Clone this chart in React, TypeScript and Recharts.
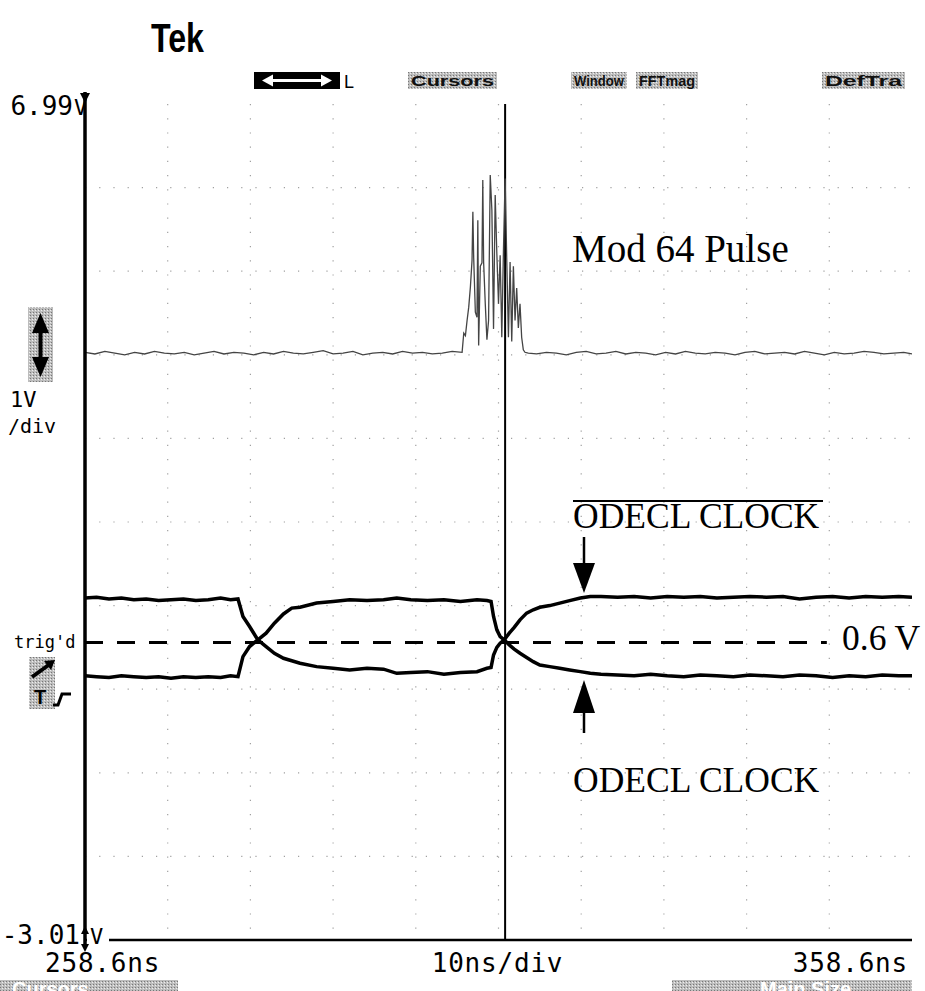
import React from 'react';
import { LineChart, Line, XAxis, YAxis, CartesianGrid, ReferenceLine } from 'recharts';

const W = 925;
const H = 991;
// plot box in page pixels (graticule edges)
const PLOT = { left: 85, right: 912, top: 104, bottom: 940 };
const X_AXIS_H = 40;
const Y_AXIS_W = 60;

const xDomain = [258.6, 358.6]; // ns
const yDomain = [-3.01, 6.99]; // V
const xTicks = [258.6, 308.6, 358.6];
const xTickLabels = ['258.6ns', '10ns/div', '358.6ns'];
const yTicks = [-3.01, 6.99];
const yTickLabels = ['-3.01', '6.99'];
const gridTimes = [268.6, 278.6, 288.6, 298.6, 308.6, 318.6, 328.6, 338.6, 348.6];
const gridVolts = [-2.01, -1.01, -0.01, 0.99, 1.99, 2.99, 3.99, 4.99, 5.99];

const cursorTime = 309.4;
const trigLevel = 0.55;
const trigEndTime = 348.3;

// Mod 64 pulse trace (top channel)
const pulseLeftTimes = [
  258.6, 259.8, 261.0, 262.2, 263.4, 264.6, 265.8, 267.0, 268.2, 269.4,
  270.6, 271.8, 273.0, 274.2, 275.4, 276.6, 277.8, 279.0, 280.2, 281.4,
  282.6, 283.8, 285.0, 286.2, 287.4, 288.6, 289.8, 291.0, 292.2, 293.4,
  294.6, 295.8, 297.0, 298.2, 299.4, 300.6, 301.8, 303.0, 304.2,
];
const pulseLeftVolts = [
  4.02, 4.0, 4.03, 4.01, 3.99, 4.02, 4.0, 4.03, 4.01, 4.0,
  4.02, 3.99, 4.01, 4.03, 4.0, 4.02, 4.01, 3.99, 4.02, 4.0,
  4.03, 4.01, 4.0, 4.02, 4.04, 4.0, 4.01, 4.03, 3.99, 4.01,
  4.02, 4.0, 4.03, 4.01, 4.02, 4.0, 4.01, 4.03, 4.02,
];
const pulseBurstTimes = [
  304.4, 304.6, 304.8, 305.0, 305.2, 305.4, 305.5, 305.6, 305.8, 306.0,
  306.1, 306.2, 306.4, 306.6, 306.7, 306.8, 307.0, 307.2, 307.4, 307.6,
  307.8, 308.0, 308.2, 308.4, 308.6, 308.8, 309.0, 309.2, 309.4, 309.6,
  309.8, 310.0, 310.2, 310.4, 310.6, 310.8, 311.0, 311.2, 311.4, 311.6,
  311.8, 312.2,
];
const pulseBurstVolts = [
  4.25, 4.22, 4.4, 4.56, 4.8, 5.12, 5.7, 5.15, 4.5, 4.44,
  5.6, 4.1, 5.05, 5.09, 6.08, 5.1, 4.6, 4.17, 4.4, 6.14,
  5.72, 4.3, 5.9, 5.2, 4.6, 5.18, 4.2, 5.25, 6.1, 5.12,
  4.2, 5.1, 4.15, 5.05, 4.4, 4.79, 4.31, 4.6, 4.2, 4.05,
  4.02, 4.01,
];
const pulseRightTimes = [
  313.2, 314.4, 315.6, 316.8, 318.0, 319.2, 320.4, 321.6, 322.8, 324.0,
  325.2, 326.4, 327.6, 328.8, 330.0, 331.2, 332.4, 333.6, 334.8, 336.0,
  337.2, 338.4, 339.6, 340.8, 342.0, 343.2, 344.4, 345.6, 346.8, 348.0,
  349.2, 350.4, 351.6, 352.8, 354.0, 355.2, 356.4, 357.6, 358.6,
];
const pulseRightVolts = [
  4.0, 4.02, 4.01, 3.99, 4.02, 4.03, 4.0, 4.01, 4.03, 4.0,
  4.02, 4.01, 3.99, 4.02, 4.0, 4.03, 4.01, 4.0, 4.02, 4.01,
  3.99, 4.02, 4.03, 4.0, 4.01, 4.02, 4.0, 4.03, 4.01, 3.99,
  4.02, 4.0, 4.01, 4.03, 4.02, 4.0, 4.01, 4.02, 4.0,
];

// the two clock traces share one time base
const clockTimes = [
  258.6, 260, 261.5, 263, 264.5, 266, 267.5, 269, 270.5, 272,
  273.5, 275, 276.2, 277.1, 277.7, 278.5, 279.5, 280.5, 281.5, 282.6,
  283.6, 284.6, 286.6, 288.6, 290.6, 292.7, 294.7, 296.3, 298, 300,
  302, 304, 306, 307.2, 307.7, 308.0, 308.4, 308.8, 309.3, 309.9,
  310.5, 311.2, 312.0, 312.8, 313.6, 314.8, 316.0, 317.2, 318.5, 319.7,
  321, 323, 325, 327, 329, 331, 333, 335, 337, 339,
  341, 343, 345, 347, 349, 351, 353, 355, 357, 358.6,
];
// ODECL CLOCK (bar) - high at the ends
const clockBarVolts = [
  1.08, 1.09, 1.07, 1.08, 1.06, 1.07, 1.05, 1.06, 1.07, 1.05,
  1.06, 1.08, 1.06, 1.07, 0.86, 0.74, 0.58, 0.5, 0.42, 0.36,
  0.33, 0.3, 0.26, 0.24, 0.22, 0.24, 0.23, 0.18, 0.19, 0.2,
  0.17, 0.19, 0.2, 0.24, 0.25, 0.4, 0.49, 0.54, 0.58, 0.66,
  0.73, 0.82, 0.9, 0.94, 0.97, 0.99, 1.02, 1.05, 1.08, 1.1,
  1.1, 1.09, 1.1, 1.08, 1.1, 1.09, 1.1, 1.08, 1.09, 1.1,
  1.09, 1.1, 1.07, 1.09, 1.1, 1.08, 1.1, 1.09, 1.1, 1.09,
];
// ODECL CLOCK - low at the ends
const clockVolts = [
  0.15, 0.14, 0.13, 0.15, 0.14, 0.13, 0.14, 0.12, 0.14, 0.13,
  0.14, 0.13, 0.15, 0.14, 0.38, 0.5, 0.58, 0.66, 0.78, 0.89,
  0.96, 0.97, 1.02, 1.04, 1.06, 1.05, 1.06, 1.08, 1.06, 1.05,
  1.06, 1.04, 1.06, 1.05, 1.04, 0.86, 0.7, 0.62, 0.58, 0.52,
  0.47, 0.42, 0.37, 0.32, 0.28, 0.26, 0.24, 0.22, 0.2, 0.18,
  0.17, 0.16, 0.15, 0.17, 0.15, 0.14, 0.16, 0.15, 0.14, 0.16,
  0.15, 0.14, 0.16, 0.15, 0.13, 0.15, 0.14, 0.16, 0.15, 0.15,
];

const toPoints = (ts: number[], vs: number[]) => ts.map((t, i) => ({ t, v: vs[i] }));

const pulseData = [
  ...toPoints(pulseLeftTimes, pulseLeftVolts),
  ...toPoints(pulseBurstTimes, pulseBurstVolts),
  ...toPoints(pulseRightTimes, pulseRightVolts),
];
const clockBarData = toPoints(clockTimes, clockBarVolts);
const clockData = toPoints(clockTimes, clockVolts);

const MONO = '"DejaVu Sans Mono", monospace';
const SERIF = '"Liberation Serif", "Times New Roman", serif';
const NARROW = '"Liberation Sans Narrow", "Liberation Sans", Arial, sans-serif';

const XTick = (props: any) => {
  const { x, payload } = props;
  const i = xTicks.indexOf(payload.value);
  const anchor = i === 0 ? 'start' : i === 2 ? 'end' : 'middle';
  const dx = i === 0 ? -40 : i === 2 ? -4 : -1;
  return (
    <text x={x + dx} y={PLOT.bottom + 32} textAnchor={anchor} fontFamily={MONO} fontSize={26} letterSpacing={0.8} fill="#000">
      {xTickLabels[i]}
    </text>
  );
};

const YTick = (props: any) => {
  const { y, payload } = props;
  const i = yTicks.indexOf(payload.value);
  const base = i === 1 ? y + 11 : y + 4;
  const numEnd = i === 1 ? PLOT.left - 12 : PLOT.left - 5;
  const vX = i === 1 ? PLOT.left - 11 : PLOT.left + 5;
  return (
    <g>
      <text x={numEnd} y={base} textAnchor="end" fontFamily={MONO} fontSize={26} fill="#000">
        {yTickLabels[i]}
      </text>
      {/* the scope clears the baseline behind the bottom "V" */}
      {i === 0 && <rect x={PLOT.left + 2} y={base - 16} width={22} height={20} fill="#fff" />}
      <text x={vX} y={base} fontFamily={MONO} fontSize={22} fill="#000">V</text>
    </g>
  );
};

const MenuBox = ({ x, w, label }: { x: number; w: number; label: string }) => (
  <g>
    <rect x={x} y={72} width={w} height={17} fill="url(#halftone)" />
    <text x={x + 3} y={86} fontFamily={NARROW} fontWeight="bold" fontSize={15} textLength={w - 6} lengthAdjust="spacingAndGlyphs" fill="#111">
      {label}
    </text>
  </g>
);

const Decorations = () => (
  <svg width={W} height={H} style={{ position: 'absolute', left: 0, top: 0, pointerEvents: 'none' }}>
    <defs>
      <pattern id="halftone" width="3" height="3" patternUnits="userSpaceOnUse">
        <rect width="3" height="3" fill="#bdbdbd" />
        <rect x="0" y="0" width="1" height="1" fill="#777" />
        <rect x="2" y="1" width="1" height="1" fill="#eee" />
      </pattern>
    </defs>

    {/* top menu */}
    <text x={151} y={52} fontFamily='"Liberation Sans", Arial, sans-serif' fontWeight="bold" fontSize={40} textLength={53} lengthAdjust="spacingAndGlyphs" fill="#000">Tek</text>
    <rect x={254} y={72} width={86} height={17} fill="#000" />
    <polygon points="262,80.5 273,74.5 273,86.5" fill="#fff" />
    <polygon points="332,80.5 321,74.5 321,86.5" fill="#fff" />
    <rect x={272} y={79} width={50} height={3} fill="#fff" />
    <text x={344} y={88} fontFamily='"Liberation Sans", Arial, sans-serif' fontSize={18} fill="#000">L</text>
    <MenuBox x={408} w={89} label="Cursors" />
    <MenuBox x={571} w={56} label="Window" />
    <MenuBox x={636} w={62} label="FFTmag" />
    <MenuBox x={822} w={83} label="DefTra" />

    {/* vertical axis with its end markers */}
    <line x1={PLOT.left} y1={92} x2={PLOT.left} y2={948} stroke="#000" strokeWidth={3.5} />
    <polygon points={`${PLOT.left - 5},93 ${PLOT.left + 5},93 ${PLOT.left},103`} fill="#000" />
    <polygon points={`${PLOT.left - 4},934 ${PLOT.left + 4},934 ${PLOT.left},926`} fill="#000" />
    <polygon points={`${PLOT.left - 4},944 ${PLOT.left + 4},944 ${PLOT.left},952`} fill="#000" />

    {/* left panel */}
    <rect x={28} y={307} width={25} height={75} fill="url(#halftone)" />
    <polygon points="40.5,313 32,333 49,333" fill="#000" />
    <rect x={38.5} y={330} width={4} height={30} fill="#000" />
    <polygon points="40.5,377 32,357 49,357" fill="#000" />
    <text x={10} y={407} fontFamily={MONO} fontSize={22} fill="#000">1V</text>
    <text x={8} y={433} fontFamily={MONO} fontSize={20} fill="#000">/div</text>
    <text x={14} y={648} fontFamily={MONO} fontSize={17} fill="#000">trig'd</text>
    <rect x={29} y={657} width={26} height={52} fill="url(#halftone)" />
    <line x1={32} y1={677} x2={50} y2={664} stroke="#000" strokeWidth={4} />
    <polygon points="55,660 44,661 51,670" fill="#000" />
    <text x={34} y={704} fontFamily='"Liberation Sans", Arial, sans-serif' fontWeight="bold" fontSize={20} fill="#000">T</text>
    <polyline points="53,705 58,705 62,694 71,694" fill="none" stroke="#000" strokeWidth={3} />

    {/* annotations */}
    <text x={572} y={262} fontFamily={SERIF} fontSize={39} fill="#000">Mod 64 Pulse</text>
    <line x1={573} y1={501} x2={823} y2={501} stroke="#000" strokeWidth={2} />
    <text x={573} y={528} fontFamily={SERIF} fontSize={35.5} fill="#000">ODECL CLOCK</text>
    <line x1={584} y1={537} x2={584} y2={566} stroke="#000" strokeWidth={2.5} />
    <polygon points="573,563 595,563 584,593" fill="#000" />
    <text x={842} y={650} fontFamily={SERIF} fontSize={35.5} fill="#000">0.6 V</text>
    <polygon points="584,680 573,713 595,713" fill="#000" />
    <line x1={584} y1={710} x2={584} y2={733} stroke="#000" strokeWidth={2.5} />
    <text x={573} y={792} fontFamily={SERIF} fontSize={35.5} fill="#000">ODECL CLOCK</text>

    {/* bottom menu, cut off by the frame edge */}
    <rect x={0} y={980} width={178} height={11} fill="url(#halftone)" />
    <text x={12} y={996} fontFamily={NARROW} fontWeight="bold" fontSize={20} fill="#fff">Cursors</text>
    <rect x={672} y={980} width={240} height={11} fill="url(#halftone)" />
    <text x={760} y={996} fontFamily={NARROW} fontWeight="bold" fontSize={20} fill="#fff">Main Size</text>
  </svg>
);

export default function App() {
  return (
    <div style={{ position: 'absolute', left: 0, top: 0, width: W, height: H, background: '#fff', overflow: 'hidden' }}>
      <LineChart
        width={W}
        height={H}
        margin={{
          top: PLOT.top,
          right: W - PLOT.right,
          bottom: H - PLOT.bottom - X_AXIS_H,
          left: PLOT.left - Y_AXIS_W,
        }}
      >
        <CartesianGrid
          horizontalValues={gridVolts}
          verticalValues={gridTimes}
          stroke="#a0a0a0"
          strokeWidth={1.2}
          strokeDasharray="1.2 13"
        />
        <ReferenceLine
          segment={[{ x: xDomain[0], y: trigLevel }, { x: trigEndTime, y: trigLevel }]}
          stroke="#000"
          strokeWidth={3}
          strokeDasharray="18 14"
        />
        <ReferenceLine x={cursorTime} stroke="#000" strokeWidth={2} />
        <Line data={pulseData} dataKey="v" type="linear" stroke="#444" strokeWidth={1.3} dot={false} isAnimationActive={false} />
        <Line data={clockBarData} dataKey="v" type="linear" stroke="#000" strokeWidth={3.5} dot={false} isAnimationActive={false} />
        <Line data={clockData} dataKey="v" type="linear" stroke="#000" strokeWidth={3.5} dot={false} isAnimationActive={false} />
        <XAxis
          type="number"
          dataKey="t"
          domain={xDomain}
          ticks={xTicks}
          allowDataOverflow
          height={X_AXIS_H}
          axisLine={{ stroke: '#000', strokeWidth: 2.5 }}
          tickLine={false}
          tick={<XTick />}
          interval={0}
        />
        <YAxis
          type="number"
          dataKey="v"
          domain={yDomain}
          ticks={yTicks}
          allowDataOverflow
          width={Y_AXIS_W}
          axisLine={false}
          tickLine={false}
          tick={<YTick />}
          interval={0}
        />
      </LineChart>
      <Decorations />
    </div>
  );
}
